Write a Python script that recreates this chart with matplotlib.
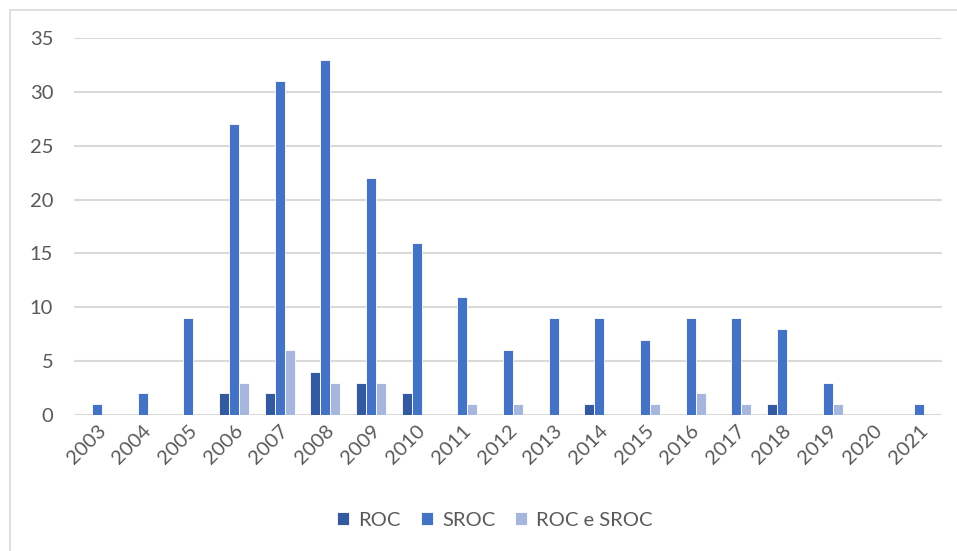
import matplotlib
matplotlib.use("Agg")
import matplotlib.pyplot as plt
from matplotlib.patches import Rectangle
import numpy as np

years = ["2003", "2004", "2005", "2006", "2007", "2008", "2009", "2010", "2011", "2012",
         "2013", "2014", "2015", "2016", "2017", "2018", "2019", "2020", "2021"]
roc = [0, 0, 0, 2, 2, 4, 3, 2, 0, 0, 0, 1, 0, 0, 0, 1, 0, 0, 0]
sroc = [1, 2, 9, 27, 31, 33, 22, 16, 11, 6, 9, 9, 7, 9, 9, 8, 3, 0, 1]
roc_e_sroc = [0, 0, 0, 3, 6, 3, 3, 0, 1, 1, 0, 0, 1, 2, 1, 0, 1, 0, 0]
series_names = ["ROC", "SROC", "ROC e SROC"]
colors = ["#335AA1", "#4472C4", "#A7B6DC"]
yticks = [0, 5, 10, 15, 20, 25, 30, 35]

plt.rcParams["font.family"] = ["Lato", "DejaVu Sans"]
text_color = "#595959"
grid_color = "#D9D9D9"
fs = 14.5

fig = plt.figure(figsize=(9.57, 5.51), dpi=100)
ax = fig.add_axes([74 / 957, 1 - 415 / 551, (942 - 74) / 957, (415 - 38) / 551])

# outer chart frame (top and left edges)
fig.patches.append(Rectangle((10 / 957, -0.1), 1.2, 1 - 10 / 551 + 0.1,
                             transform=fig.transFigure, fill=False,
                             edgecolor=grid_color, linewidth=1.2))

x = np.arange(len(years))
w = 0.219
for i, (vals, name, c) in enumerate(zip([roc, sroc, roc_e_sroc], series_names, colors)):
    ax.bar(x + (i - 1) * w, vals, width=w, color=c, edgecolor="white",
           linewidth=0.6, label=name, zorder=3)

ax.set_xlim(-0.5, len(years) - 0.5)
ax.set_ylim(0, 35)
ax.set_yticks(yticks)
ax.set_yticklabels([str(t) for t in yticks], fontsize=fs, color=text_color)
ax.set_xticks(x)
ax.set_xticklabels(years, fontsize=fs, color=text_color, rotation=45,
                   ha="right", va="top", rotation_mode="anchor")
ax.tick_params(axis="both", length=0)
ax.tick_params(axis="y", pad=15)
ax.tick_params(axis="x", pad=5)
ax.grid(axis="y", color=grid_color, linewidth=1.5, zorder=0)
for s in ax.spines.values():
    s.set_visible(False)

leg = fig.legend(loc="center", bbox_to_anchor=(495 / 957, 1 - 520 / 551), ncol=3,
                 frameon=False, fontsize=fs, handlelength=0.6, handleheight=0.6,
                 handletextpad=0.45, columnspacing=1.0)
for t in leg.get_texts():
    t.set_color(text_color)

fig.savefig("out.png", dpi=100, facecolor="white")
